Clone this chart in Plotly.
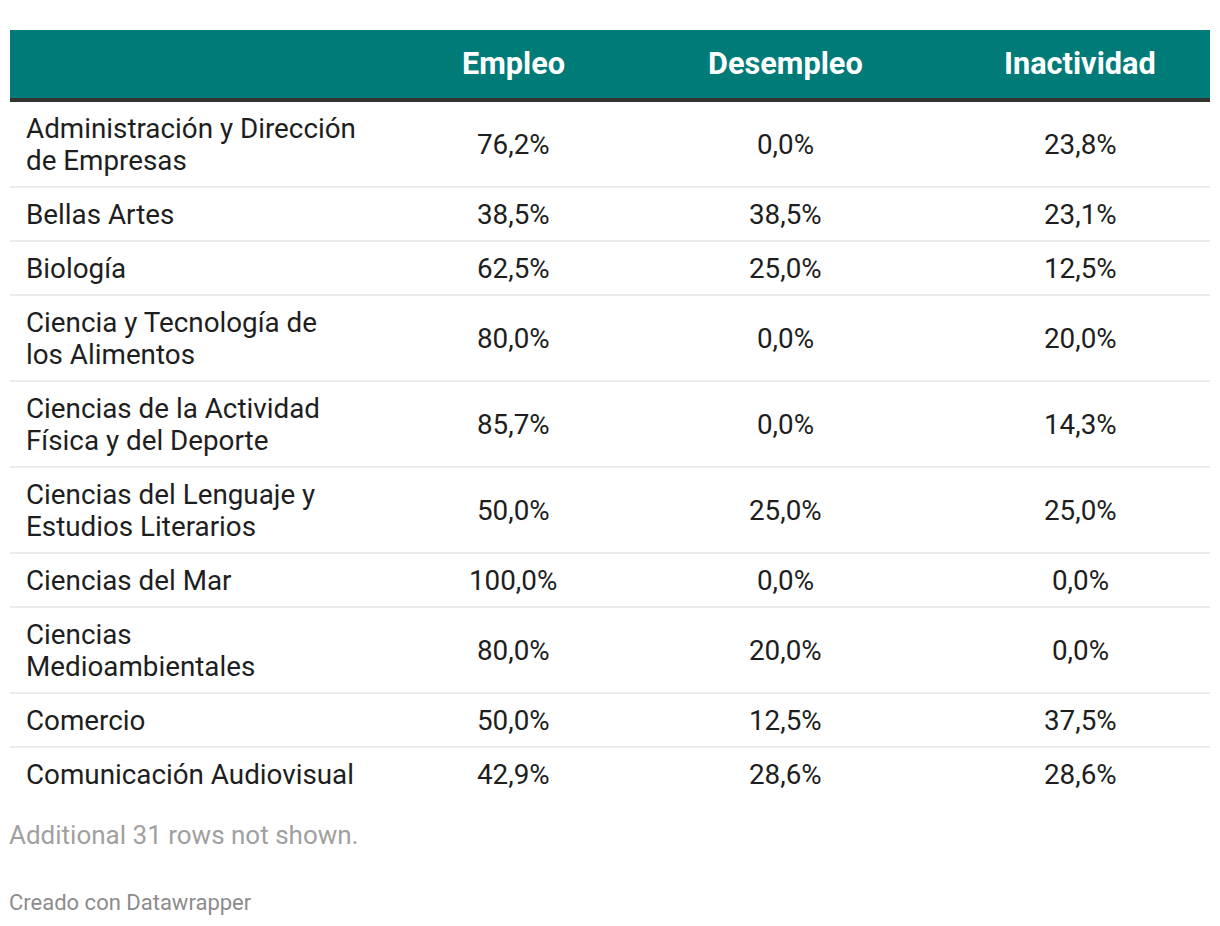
import plotly.graph_objects as go

columns = ["Empleo", "Desempleo", "Inactividad"]
titulaciones = [
    ["Administración y Dirección", "de Empresas"],
    ["Bellas Artes"],
    ["Biología"],
    ["Ciencia y Tecnología de", "los Alimentos"],
    ["Ciencias de la Actividad", "Física y del Deporte"],
    ["Ciencias del Lenguaje y", "Estudios Literarios"],
    ["Ciencias del Mar"],
    ["Ciencias", "Medioambientales"],
    ["Comercio"],
    ["Comunicación Audiovisual"],
]
empleo = [76.2, 38.5, 62.5, 80.0, 85.7, 50.0, 100.0, 80.0, 50.0, 42.9]
desempleo = [0.0, 38.5, 25.0, 0.0, 0.0, 25.0, 0.0, 20.0, 12.5, 28.6]
inactividad = [23.8, 23.1, 12.5, 20.0, 14.3, 25.0, 0.0, 0.0, 37.5, 28.6]
note = "Additional 31 rows not shown."
credit = "Creado con Datawrapper"

PAGE_W, PAGE_H = 1220, 926
OFF = 8  # default page body margin
TABLE_L, TABLE_R = 10, 1210
HEAD_T, HEAD_B = 30, 98
RULE = 4
LABEL_X = 24
COL_X = [513, 785, 1080]
LINE_H = 32
PAD = 22

TEAL = "#007b78"
DARK = "#333333"
SEP = "#e5e5e5"
TXT = "#1e1e1e"
FONT = "Roboto, 'Noto Sans', sans-serif"
BODY_SIZE = 27.8


def fmt(v):
    return f"{v:.1f}".replace(".", ",") + "%"


fig = go.Figure()
shapes = []
annotations = []

# header
shapes.append(dict(type="rect", xref="x", yref="y", x0=TABLE_L, x1=TABLE_R,
                   y0=HEAD_T, y1=HEAD_B, fillcolor=TEAL, line_width=0, layer="below"))
shapes.append(dict(type="rect", xref="x", yref="y", x0=TABLE_L, x1=TABLE_R,
                   y0=HEAD_B, y1=HEAD_B + RULE, fillcolor=DARK, line_width=0, layer="below"))
for cx, name in zip(COL_X, columns):
    annotations.append(dict(x=cx, y=(HEAD_T + HEAD_B) / 2 - 1, xref="x", yref="y", text=f"<b>{name}</b>",
                            showarrow=False, xanchor="center", yanchor="middle",
                            font=dict(family=FONT, size=30.7, color="white")))

# rows
y = HEAD_B + RULE - 1
series = [empleo, desempleo, inactividad]
n = len(titulaciones)
for i, lines in enumerate(titulaciones):
    nlines = len(lines)
    h = PAD + LINE_H * nlines
    cy = y + h / 2
    for j, line in enumerate(lines):
        ly = cy + (j - (nlines - 1) / 2) * LINE_H
        annotations.append(dict(x=LABEL_X, y=ly, xref="x", yref="y", text=line, showarrow=False,
                                xanchor="left", yanchor="middle", align="left",
                                font=dict(family=FONT, size=BODY_SIZE, color=TXT)))
    for cx, s in zip(COL_X, series):
        annotations.append(dict(x=cx, y=cy, xref="x", yref="y", text=fmt(s[i]), showarrow=False,
                                xanchor="center", yanchor="middle",
                                font=dict(family=FONT, size=BODY_SIZE, color=TXT)))
    y += h
    if i < n - 1:
        shapes.append(dict(type="line", xref="x", yref="y", x0=TABLE_L, x1=TABLE_R,
                           y0=y, y1=y, line=dict(color=SEP, width=1.5)))

annotations.append(dict(x=TABLE_L, y=y + 34, xref="x", yref="y", text=note, showarrow=False,
                        xanchor="left", yanchor="middle", xshift=-3,
                        font=dict(family=FONT, size=26, color="#a0a0a0")))
annotations.append(dict(x=TABLE_L, y=y + 101, xref="x", yref="y", text=credit, showarrow=False,
                        xanchor="left", yanchor="middle", xshift=-3,
                        font=dict(family=FONT, size=22, color="#8c8c8c")))

fig.update_layout(
    width=PAGE_W - OFF, height=PAGE_H - OFF,
    margin=dict(l=0, r=0, t=0, b=0),
    paper_bgcolor="white", plot_bgcolor="white",
    xaxis=dict(range=[OFF, PAGE_W], visible=False, fixedrange=True),
    yaxis=dict(range=[PAGE_H, OFF], visible=False, fixedrange=True),
    shapes=shapes, annotations=annotations, showlegend=False,
)

fig.write_html("out.html")
